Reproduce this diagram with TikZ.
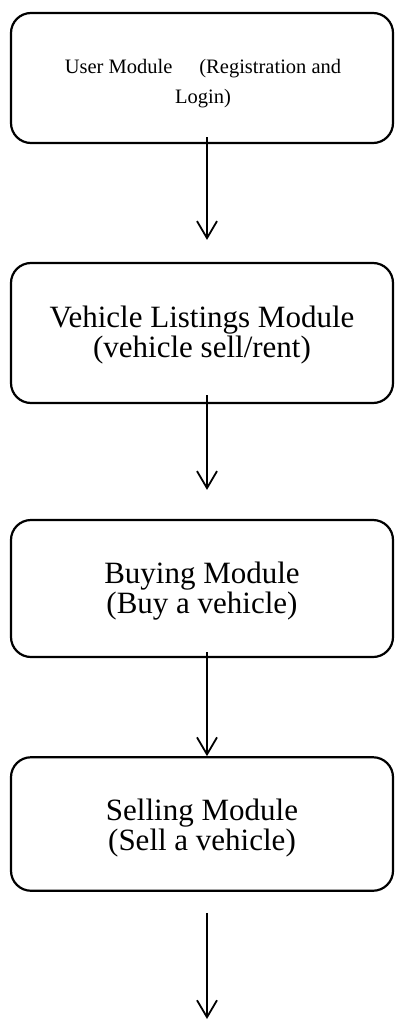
\documentclass[tikz,border=0pt]{standalone}
\usepackage{fontspec}
\setmainfont{Liberation Serif}
\usetikzlibrary{arrows.meta}
\tikzset{
  modbox/.style={draw=black, line width=2.2pt, rounded corners=20pt, minimum width=382pt, inner sep=0pt},
  bigtext/.style={font=\fontsize{31}{30}\selectfont, align=center, inner sep=0pt},
  smalltext/.style={font=\fontsize{20.5}{30}\selectfont, align=center, inner sep=0pt},
  flow/.style={line width=1.8pt, -{Straight Barb[length=17pt,width=20pt]}}
}
\begin{document}
\begin{tikzpicture}[x=1pt,y=-1pt]
\useasboundingbox (0,0) rectangle (395,1024);
\node[modbox, minimum height=130pt] (b1) at (202,78) {};
\node[modbox, minimum height=140pt] (b2) at (202,333) {};
\node[modbox, minimum height=137pt] (b3) at (202,588.5) {};
\node[modbox, minimum height=133.5pt] (b4) at (202,824) {};
\node[smalltext] (t1) at ([xshift=1pt,yshift=-6pt]b1.center) {User Module\hspace{27pt}(Registration and\\Login)};
\node[bigtext] (t2) at ([yshift=-2pt]b2.center) {Vehicle Listings Module\\(vehicle sell/rent)};
\node[bigtext] (t3) at ([yshift=-3pt]b3.center) {Buying Module\\(Buy a vehicle)};
\node[bigtext] (t4) at ([yshift=-4pt]b4.center) {Selling Module\\(Sell a vehicle)};
\coordinate (end) at (207,1019);
\draw[flow] ([xshift=5pt,yshift=7pt]b1.south) -- ([xshift=5pt,yshift=22pt]b2.north);
\draw[flow] ([xshift=5pt,yshift=9pt]b2.south) -- ([xshift=5pt,yshift=29pt]b3.north);
\draw[flow] ([xshift=5pt,yshift=6pt]b3.south) -- ([xshift=5pt]b4.north);
\draw[flow] ([xshift=5pt,yshift=-21pt]b4.south) -- (end);
\end{tikzpicture}
\end{document}
